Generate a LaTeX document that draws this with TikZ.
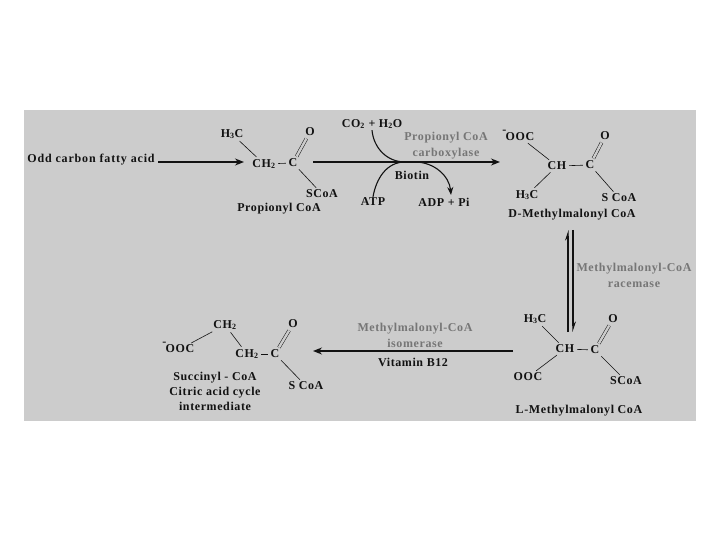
\documentclass[tikz,border=0pt]{standalone}
\usepackage{fontspec}
\setmainfont{Liberation Serif}[LetterSpace=5]
\usepackage{xcolor}
\usetikzlibrary{arrows.meta,positioning}
\definecolor{panelgray}{RGB}{204,204,204}
\definecolor{enzgray}{RGB}{118,118,118}
\definecolor{inkblack}{RGB}{18,18,18}
\tikzset{
  atom/.style={inner sep=1pt,font=\fontsize{12}{13}\selectfont\bfseries,color=inkblack},
  caption/.style={inner sep=0pt,align=center,font=\fontsize{12}{15}\selectfont\bfseries,color=inkblack},
  enzyme/.style={inner sep=0pt,align=center,font=\fontsize{12}{16}\selectfont\bfseries,color=enzgray},
  bond/.style={draw=inkblack,line width=0.6pt,shorten <=1.5pt,shorten >=1.5pt},
  dbond/.style={draw=inkblack,line width=0.5pt,double=panelgray,double distance=2.4pt,shorten <=1.5pt,shorten >=1.5pt},
  darrow/.style={-{Stealth[length=9pt,width=7pt]},line width=1.3pt,color=inkblack},
  curve/.style={line width=1.1pt,color=inkblack},
  eqarrow/.style={-{Stealth[harpoon,length=9pt,width=6pt]},line width=1.1pt,color=inkblack}
}
\begin{document}
\begin{tikzpicture}[x=1pt,y=-1pt]
  \useasboundingbox (0,0) rectangle (720,540);
  \fill[panelgray] (24,110) rectangle (696,421);

  % Propionyl CoA
  \node[caption] (odd) at (91,160) {\addfontfeature{LetterSpace=7}Odd carbon fatty acid};
  \node[atom] (pch3) at (232,134) {H\textsubscript{3}C};
  \node[atom] (pch2) at (264,164) {CH\textsubscript{2}};
  \node[atom] (pc)   at (293,163) {C};
  \node[atom] (po)   at (310,132) {O};
  \node[atom] (ps)   at (322,194) {SCoA};
  \node[caption] (pname) at (279,209) {Propionyl CoA};

  % D form
  \node[atom] (dooc) at (520,137) {OOC};
  \node[atom,above left=-3pt and -3pt of dooc] (dminus) {-};
  \node[atom] (dch)  at (557,166) {CH};
  \node[atom] (dc)   at (590,165) {C};
  \node[atom] (do)   at (605,136) {O};
  \node[atom] (dch3) at (527,195) {H\textsubscript{3}C};
  \node[atom] (ds)   at (619,198) {S CoA};
  \node[caption] (dname) at (572,215) {D-Methylmalonyl CoA};

  % L form
  \node[atom] (lch3) at (535,319) {H\textsubscript{3}C};
  \node[atom] (lch)  at (565,349) {CH};
  \node[atom] (lc)   at (595,350) {C};
  \node[atom] (lo)   at (613,319) {O};
  \node[atom] (looc) at (528,377) {OOC};
  \node[atom] (ls)   at (626,381) {SCoA};
  \node[caption] (lname) at (579,411) {L-Methylmalonyl CoA};

  % Succinyl CoA
  \node[atom] (sooc) at (180,349) {OOC};
  \node[atom,above left=-3pt and -3pt of sooc] (sminus) {-};
  \node[atom] (sch2a) at (225,325) {CH\textsubscript{2}};
  \node[atom] (sch2b) at (247,354) {CH\textsubscript{2}};
  \node[atom] (sc)    at (275,354) {C};
  \node[atom] (so)    at (293,324) {O};
  \node[atom] (ss)    at (306,386) {S CoA};
  \node[caption] (sname) at (215,391) {Succinyl - CoA\\Citric acid cycle\\intermediate};

  \foreach \a/\b in {pch3/pch2,pch2/pc,pc/ps,dooc/dch,dch/dc,dch/dch3,dc/ds,
                     lch3/lch,lch/lc,lch/looc,lc/ls,sooc/sch2a,sch2a/sch2b,sch2b/sc,sc/ss}
    \draw[bond] (\a) -- (\b);
  \foreach \a/\b in {pc/po,dc/do,lc/lo,sc/so}
    \draw[dbond] (\a) -- (\b);

  % Reaction labels
  \node[atom] (co2) at (372,124) {CO\textsubscript{2} + H\textsubscript{2}O};
  \node[atom] (atp) at (373,202) {ATP};
  \node[atom] (adp) at (444,202) {ADP + Pi};
  \node[atom] (biotin) at (412,175) {Biotin};
  \node[enzyme] (carbox) at (446,146) {Propionyl CoA\\carboxylase};
  \node[enzyme] (racem) at (634,275) {Methylmalonyl-CoA\\racemase};
  \node[enzyme] (isom) at (415,335) {Methylmalonyl-CoA\\isomerase};
  \node[atom] (vitb) at (413,362) {Vitamin B12};

  % Arrows
  \coordinate (odd1) at (158,162);
  \coordinate (odd2) at (244,162);
  \coordinate (main1) at (313,162);
  \coordinate (main2) at (500,162);
  \coordinate (meet) at (405,162);
  \coordinate (leave) at (415,162);
  \coordinate (adptip) at (451,195);
  \coordinate (rac1) at (568,332);
  \coordinate (rac2) at (568,230);
  \coordinate (rac3) at (573,230);
  \coordinate (rac4) at (573,332);
  \coordinate (iso1) at (513,351);
  \coordinate (iso2) at (313,351);

  \draw[darrow] (odd1) -- (odd2);
  \draw[darrow] (main1) -- (main2);
  \draw[darrow] (iso1) -- (iso2);
  \draw[curve] (co2.south) to[out=-85,in=180] (meet);
  \draw[curve] (atp.north) to[out=80,in=180] (meet);
  \draw[curve,-{Stealth[length=8pt,width=6pt]}] (leave) to[out=0,in=95] (adptip);
  \draw[eqarrow] (rac1) -- (rac2);
  \draw[eqarrow] (rac3) -- (rac4);
\end{tikzpicture}
\end{document}
